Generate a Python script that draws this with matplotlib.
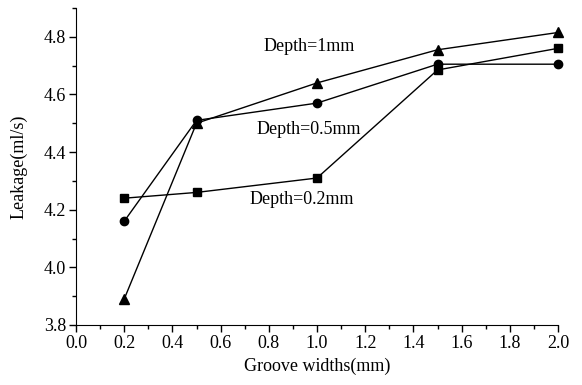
import matplotlib
matplotlib.use("Agg")
import matplotlib.pyplot as plt
from matplotlib.ticker import MultipleLocator, FormatStrFormatter

widths = [0.2, 0.5, 1.0, 1.5, 2.0]
depth_02 = [4.24, 4.26, 4.31, 4.685, 4.76]
depth_05 = [4.16, 4.51, 4.57, 4.705, 4.705]
depth_1 = [3.89, 4.50, 4.64, 4.755, 4.815]
labels = ["Depth=0.2mm", "Depth=0.5mm", "Depth=1mm"]

plt.rcParams['font.family'] = ['Liberation Serif', 'DejaVu Serif']
fig = plt.figure(figsize=(5.82, 3.85), dpi=100)
ax = fig.add_axes([76/582, 1-325/385, (558-76)/582, (325-8)/385])

ax.plot(widths, depth_02, color='black', lw=1, marker='s', ms=6, clip_on=False)
ax.plot(widths, depth_05, color='black', lw=1, marker='o', ms=6, clip_on=False)
ax.plot(widths, depth_1, color='black', lw=1, marker='^', ms=7, clip_on=False)

fs = 13
ax.text(0.718, 4.235, labels[0], fontsize=fs, va='center', ha='left')
ax.text(0.75, 4.478, labels[1], fontsize=fs, va='center', ha='left')
ax.text(0.776, 4.767, labels[2], fontsize=fs, va='center', ha='left')

ax.set_xlim(0.0, 2.0)
ax.set_ylim(3.8, 4.9)
ax.xaxis.set_major_locator(MultipleLocator(0.2))
ax.xaxis.set_minor_locator(MultipleLocator(0.1))
ax.yaxis.set_major_locator(MultipleLocator(0.2))
ax.yaxis.set_minor_locator(MultipleLocator(0.1))
ax.xaxis.set_major_formatter(FormatStrFormatter('%.1f'))
ax.yaxis.set_major_formatter(FormatStrFormatter('%.1f'))
ax.tick_params(which='major', direction='out', length=5, width=1, labelsize=fs, pad=2)
ax.tick_params(which='minor', direction='out', length=3, width=1)
ax.spines['top'].set_visible(False)
ax.spines['right'].set_visible(False)
ax.set_xlabel("Groove widths(mm)", fontsize=fs, labelpad=4)
ax.set_ylabel("Leakage(ml/s)", fontsize=fs, labelpad=12)

fig.savefig("out.png", dpi=100)
